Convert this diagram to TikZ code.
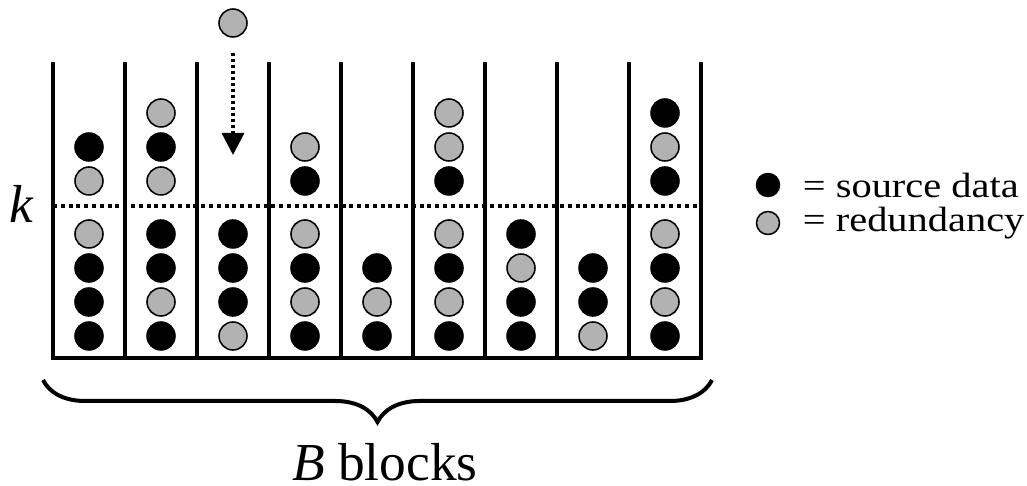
\documentclass[tikz,border=0pt]{standalone}
\usepackage{fontspec}
\setmainfont{Liberation Serif}
\newfontfamily\keyfont[FakeStretch=1.15]{Liberation Serif}
\usetikzlibrary{positioning,arrows.meta,decorations.pathreplacing}

\begin{document}
\begin{tikzpicture}[
    wall/.style={line width=0.1cm},
    sdot/.style={circle, draw=black, fill=black, line width=1.1pt, minimum size=0.7cm, inner sep=0pt},
    rdot/.style={sdot, fill=gray!60},
    keytext/.style={inner sep=0pt, font=\keyfont\fontsize{25pt}{30pt}\selectfont},
    bigtext/.style={inner sep=0pt, font=\fontsize{38pt}{44pt}\selectfont}
]
    \useasboundingbox (-1.325,-3.2) rectangle (24.35,8.95);

    % threshold line
    \coordinate (kleft) at (0,3.8);
    \coordinate (kright) at (16.2,3.8);
    \draw[line width=0.1cm, dash pattern=on 0.1cm off 0.095cm] (kleft) -- (kright);
    \node[bigtext, anchor=base] (klabel) at (-0.79,3.375) {\textit{k}};

    % blocks
    \foreach \i in {0,...,9}
        \draw[wall] (1.8*\i,0) -- (1.8*\i,7.4);
    \draw[wall] (-0.05,0) -- (16.25,0);

    \foreach \c/\stack in {0/{s,s,s,r,r,s}, 1/{s,r,s,s,r,s,r}, 2/{r,s,s,s},
                           3/{s,r,s,r,s,r}, 4/{s,r,s}, 5/{s,r,s,r,s,r,r},
                           6/{s,s,r,s}, 7/{r,s,s}, 8/{s,r,s,r,s,r,s}}
        \foreach \kind [count=\n from 0] in \stack {
            \pgfmathsetmacro\yy{0.55+0.85*\n+0.475*(\n>3)}
            \node[\kind dot] (b\c-\n) at (0.9+1.8*\c,\yy) {};
        }

    % incoming symbol
    \node[rdot] (incoming) at (4.5,8.375) {};
    \coordinate (droptip) at (4.5,5.075);
    \draw[line width=0.08cm, dash pattern=on 0.08cm off 0.07cm,
          -{Triangle[length=0.55cm,width=0.55cm]}, shorten <=0.375cm] (incoming) -- (droptip);

    % brace
    \coordinate (braceL) at (-0.25,-0.55);
    \coordinate (braceR) at (16.475,-0.55);
    \draw[line width=0.1cm, decorate, decoration={brace, mirror, amplitude=1.05cm}] (braceL) -- (braceR);
    \node[bigtext, anchor=base] (blocks) at (8.3,-3.05) {\textit{B} blocks};

    % Legend
    \node[sdot, minimum size=0.575cm] (srckey) at (17.875,4.325) {};
    \node[rdot, minimum size=0.575cm] (redkey) at (17.875,3.375) {};
    \node[keytext, right=0.56cm of srckey] (srctext) {= source data};
    \node[keytext, right=0.56cm of redkey] (redtext) {= redundancy};
\end{tikzpicture}
\end{document}
